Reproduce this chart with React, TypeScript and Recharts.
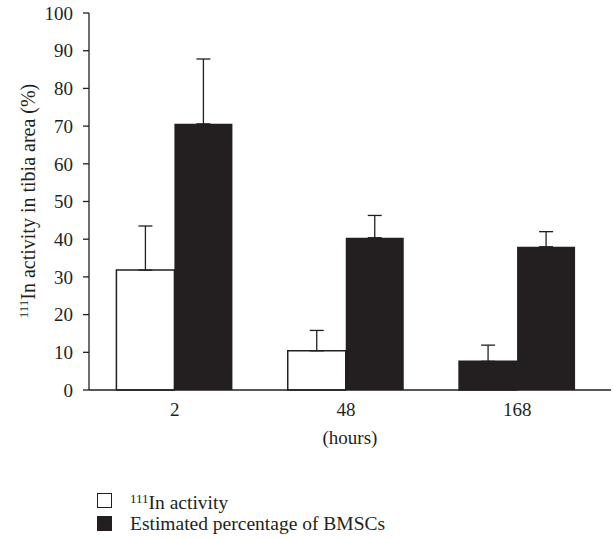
import { BarChart, Bar, XAxis, YAxis, ErrorBar, Cell, Legend } from 'recharts';

const hours = ['2', '48', '168'];
const activity = [31.8, 10.4, 7.6];
const activityErr = [11.7, 5.4, 4.3];
const bmsc = [70.6, 40.4, 38.0];
const bmscErr = [17.2, 5.9, 4.0];
const yTicks = [0, 10, 20, 30, 40, 50, 60, 70, 80, 90, 100];

const data = hours.map((h, i) => ({
  hour: h,
  activity: activity[i],
  activityErr: [0, activityErr[i]],
  bmsc: bmsc[i],
  bmscErr: [0, bmscErr[i]],
}));

const INK = '#231f20';
const FONT = '"Liberation Serif", "DejaVu Serif", serif';
// the 168 h activity bar is drawn filled in the original figure
const activityFills = ['#ffffff', '#ffffff', INK];

const YLabel = () => (
  <text
    x={35}
    y={201}
    transform="rotate(-90, 35, 201)"
    textAnchor="middle"
    fontFamily={FONT}
    fontSize={20}
    fill={INK}
  >
    <tspan fontSize={13} dy={-7}>111</tspan>
    <tspan dy={7}>In activity in tibia area (%)</tspan>
  </text>
);

const LegendBox = () => (
  <div style={{ fontFamily: FONT, fontSize: 19.5, color: INK, lineHeight: '21px' }}>
    <div style={{ display: 'flex', alignItems: 'center' }}>
      <span style={{ width: 13, height: 13, border: `1px solid ${INK}`, background: '#fff', marginRight: 18 }} />
      <span>
        <sup style={{ fontSize: 13, verticalAlign: 6 }}>111</sup>In activity
      </span>
    </div>
    <div style={{ display: 'flex', alignItems: 'center' }}>
      <span style={{ width: 15, height: 15, background: INK, marginRight: 18 }} />
      <span>Estimated percentage of BMSCs</span>
    </div>
  </div>
);

export default function App() {
  return (
    <div style={{ position: 'absolute', left: 0, top: 0, background: '#fff' }}>
      <BarChart
        width={613}
        height={539}
        data={data}
        margin={{ top: 13, right: 2, left: 0, bottom: 94 }}
        barCategoryGap="16%"
        barGap={0}
      >
        <XAxis
          dataKey="hour"
          axisLine={{ stroke: INK, strokeWidth: 1.3 }}
          tickLine={false}
          tickSize={0}
          tickMargin={13}
          height={55}
          padding={{ left: 0, right: 8 }}
          tick={{ fill: INK, fontSize: 19, fontFamily: FONT }}
          label={{ value: '(hours)', position: 'insideBottom', offset: 1, fill: INK, fontSize: 19, fontFamily: FONT }}
        />
        <YAxis
          width={89}
          domain={[0, 100]}
          ticks={yTicks}
          interval={0}
          axisLine={{ stroke: INK, strokeWidth: 1.3 }}
          tickLine={{ stroke: INK, strokeWidth: 1.3 }}
          tickSize={6}
          tickMargin={10}
          tick={{ fill: INK, fontSize: 19, fontFamily: FONT }}
          label={<YLabel />}
        />
        <Bar dataKey="activity" name="111In activity" stroke={INK} strokeWidth={1.5} isAnimationActive={false}>
          {data.map((d, i) => (
            <Cell key={d.hour} fill={activityFills[i]} />
          ))}
          <ErrorBar dataKey="activityErr" width={7} stroke={INK} strokeWidth={1.3} />
        </Bar>
        <Bar dataKey="bmsc" name="Estimated percentage of BMSCs" fill={INK} isAnimationActive={false}>
          <ErrorBar dataKey="bmscErr" width={7} stroke={INK} strokeWidth={1.3} />
        </Bar>
        <Legend
          verticalAlign="middle"
          align="center"
          content={<LegendBox />}
          wrapperStyle={{ position: 'absolute', left: 97, top: 488, width: 400 }}
        />
      </BarChart>
    </div>
  );
}
